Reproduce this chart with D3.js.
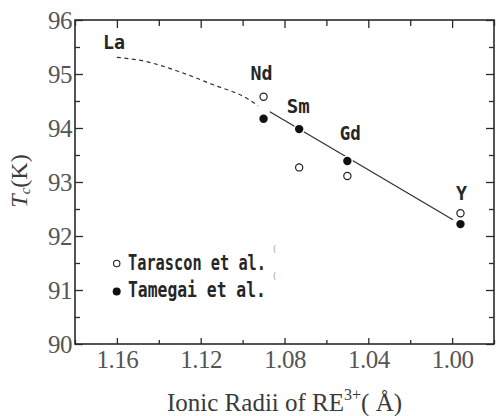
<!DOCTYPE html>
<html>
<head>
<meta charset="utf-8">
<script src="https://cdn.jsdelivr.net/npm/d3@7/dist/d3.min.js"></script>
<style>
  html, body { margin: 0; padding: 0; background: #fff; }
  svg { display: block; }
</style>
</head>
<body>
<script>
// Ionic radius of the rare-earth ion (Å) for each compound
const elements = ["Nd", "Sm", "Gd", "Y"];
const radii = [1.090, 1.073, 1.050, 0.996];
// Tc (K) reported by Tarascon et al. (open circles)
const tarascon = [94.58, 93.27, 93.11, 92.42];
// Tc (K) reported by Tamegai et al. (filled circles)
const tamegai = [94.17, 93.98, 93.39, 92.22];

// Guide curve: dashed extrapolation towards La, solid fit through the data
const dashedR = [1.160, 1.146, 1.130, 1.114, 1.098, 1.0926];
const dashedTc = [95.31, 95.23, 95.04, 94.80, 94.55, 94.41];
const solidR = [1.087, 1.038, 0.9996];
const solidTc = [94.30, 93.18, 92.30];

const xTicks = [1.16, 1.12, 1.08, 1.04, 1.00];
const xMinor = [1.18, 1.14, 1.10, 1.06, 1.02, 0.98];
const yTicks = [90, 91, 92, 93, 94, 95, 96];
const yMinor = [90.5, 91.5, 92.5, 93.5, 94.5, 95.5];

const W = 496, H = 416;
const svg = d3.select("body").append("svg").attr("width", W).attr("height", H);

const x = d3.scaleLinear().domain([1.18, 0.98]).range([75, 494]);
const y = d3.scaleLinear().domain([90, 96]).range([344, 20]);

const axisColor = "#2a2a2a";
const labelColor = "#555";
const serif = "Liberation Serif";
const mono = "DejaVu Sans Mono";

// Axes with inward ticks on all four sides
function styleAxis(g) {
  g.attr("font-family", serif).attr("font-size", 25);
  g.select(".domain").remove();
  g.selectAll(".tick line").attr("stroke", axisColor).attr("stroke-width", 1.3);
  g.selectAll(".tick text").attr("fill", labelColor)
    .attr("font-family", serif).attr("font-size", 25)
    .style("letter-spacing", "-0.5px");
}

svg.append("g").attr("transform", `translate(0,${y(90)})`)
  .call(d3.axisBottom(x).tickValues(xTicks).tickSize(-6).tickPadding(6).tickFormat(d3.format(".2f")))
  .call(styleAxis);
svg.append("g").attr("transform", `translate(0,${y(90)})`)
  .call(d3.axisBottom(x).tickValues(xMinor).tickSize(-4).tickFormat(""))
  .call(styleAxis);
svg.append("g").attr("transform", `translate(0,${y(96)})`)
  .call(d3.axisTop(x).tickValues(xTicks).tickSize(-8).tickFormat(""))
  .call(styleAxis);
svg.append("g").attr("transform", `translate(0,${y(96)})`)
  .call(d3.axisTop(x).tickValues(xMinor).tickSize(-6).tickFormat(""))
  .call(styleAxis);

svg.append("g").attr("transform", `translate(${x(1.18)},0)`)
  .call(d3.axisLeft(y).tickValues(yTicks).tickSize(-8).tickPadding(3).tickFormat(d3.format("d")))
  .call(styleAxis);
svg.append("g").attr("transform", `translate(${x(1.18)},0)`)
  .call(d3.axisLeft(y).tickValues(yMinor).tickSize(-5).tickFormat(""))
  .call(styleAxis);
svg.append("g").attr("transform", `translate(${x(0.98)},0)`)
  .call(d3.axisRight(y).tickValues(yTicks).tickSize(-8).tickFormat(""))
  .call(styleAxis);
svg.append("g").attr("transform", `translate(${x(0.98)},0)`)
  .call(d3.axisRight(y).tickValues(yMinor).tickSize(-5).tickFormat(""))
  .call(styleAxis);

// Plot frame
svg.append("rect")
  .attr("x", x(1.18)).attr("y", y(96))
  .attr("width", x(0.98) - x(1.18)).attr("height", y(90) - y(96))
  .attr("fill", "none").attr("stroke", axisColor).attr("stroke-width", 1.6);

// Guide curves
const line = d3.line().x(d => x(d[0])).y(d => y(d[1])).curve(d3.curveMonotoneX);
svg.append("path")
  .datum(d3.zip(dashedR, dashedTc))
  .attr("d", line)
  .attr("fill", "none").attr("stroke", "#333").attr("stroke-width", 1.2)
  .attr("stroke-dasharray", "4,3.5");
svg.append("path")
  .datum(d3.zip(solidR, solidTc))
  .attr("d", d3.line().x(d => x(d[0])).y(d => y(d[1])))
  .attr("fill", "none").attr("stroke", "#333").attr("stroke-width", 1.3);

// Data markers (white halo keeps the guide line from touching them)
svg.append("g").selectAll("circle")
  .data(d3.zip(radii, tarascon))
  .join("circle")
  .attr("cx", d => x(d[0])).attr("cy", d => y(d[1])).attr("r", 3.6)
  .attr("fill", "#fff").attr("stroke", "#222").attr("stroke-width", 1.2);
svg.append("g").selectAll("circle")
  .data(d3.zip(radii, tamegai))
  .join("circle")
  .attr("cx", d => x(d[0])).attr("cy", d => y(d[1])).attr("r", 5.5)
  .attr("fill", "#fff");
svg.append("g").selectAll("circle")
  .data(d3.zip(radii, tamegai))
  .join("circle")
  .attr("cx", d => x(d[0])).attr("cy", d => y(d[1])).attr("r", 4.2)
  .attr("fill", "#111");

// Narrow gothic-style text: a monospace face squeezed horizontally
function narrowText(g, text, px, baseline, width, size, weight, anchor) {
  const natural = text.length * 0.602 * size;
  const k = width / natural;
  const ox = anchor === "middle" ? px - width / 2 : px;
  return g.append("text")
    .attr("transform", `translate(${ox},${baseline}) scale(${k},1)`)
    .attr("font-family", mono).attr("font-size", size)
    .attr("font-weight", weight).attr("fill", "#262626")
    .attr("xml:space", "preserve")
    .text(text);
}

// Element labels, placed above each compound's points
narrowText(svg, "La", x(dashedR[0]) - 3, y(dashedTc[0]) - 8, 22, 20, 600, "middle");
const labelOffsets = [[-2, -39], [-1, -16], [3, -21], [1, -24]];
const labelWidths = [22, 23, 21, 11];
elements.forEach((el, i) => {
  narrowText(svg, el, x(radii[i]) + labelOffsets[i][0], y(tamegai[i]) + labelOffsets[i][1],
    labelWidths[i], 20, 600, "middle");
});

// Legend
const legend = svg.append("g");
legend.append("circle").attr("cx", 116.7).attr("cy", 263.5).attr("r", 3.2)
  .attr("fill", "#fff").attr("stroke", "#222").attr("stroke-width", 1.1);
legend.append("circle").attr("cx", 116.7).attr("cy", 291.5).attr("r", 4)
  .attr("fill", "#111");
const legendEntries = [["Tarascon et al.", 269.5], ["Tamegai et al.", 297.3]];
legendEntries.forEach(([t, yy]) => {
  narrowText(legend, t, 128, yy, 138, 21, 600, "start");
  legend.append("text")
    .attr("x", 272).attr("y", yy - 18)
    .attr("font-family", mono).attr("font-size", 8)
    .attr("fill", "#999").text("(");
});

// Axis titles
const yTitle = svg.append("text")
  .attr("transform", "translate(27,181) rotate(-90)")
  .attr("text-anchor", "middle")
  .attr("font-family", serif).attr("font-size", 24).attr("fill", "#3a3a3a");
yTitle.append("tspan").attr("font-style", "italic").text("T");
yTitle.append("tspan").attr("font-style", "italic").attr("font-size", 15).attr("dy", 3).text("c");
yTitle.append("tspan").attr("dy", -3).text("(K)");

const xTitle = svg.append("text")
  .attr("x", 167).attr("y", 411)
  .attr("font-family", serif).attr("font-size", 25).attr("fill", "#3a3a3a");
xTitle.append("tspan").text("Ionic Radii of RE");
xTitle.append("tspan").attr("font-size", 16).attr("dy", -11).text("3+");
xTitle.append("tspan").attr("dy", 11).text("( Å)");
</script>
</body>
</html>
